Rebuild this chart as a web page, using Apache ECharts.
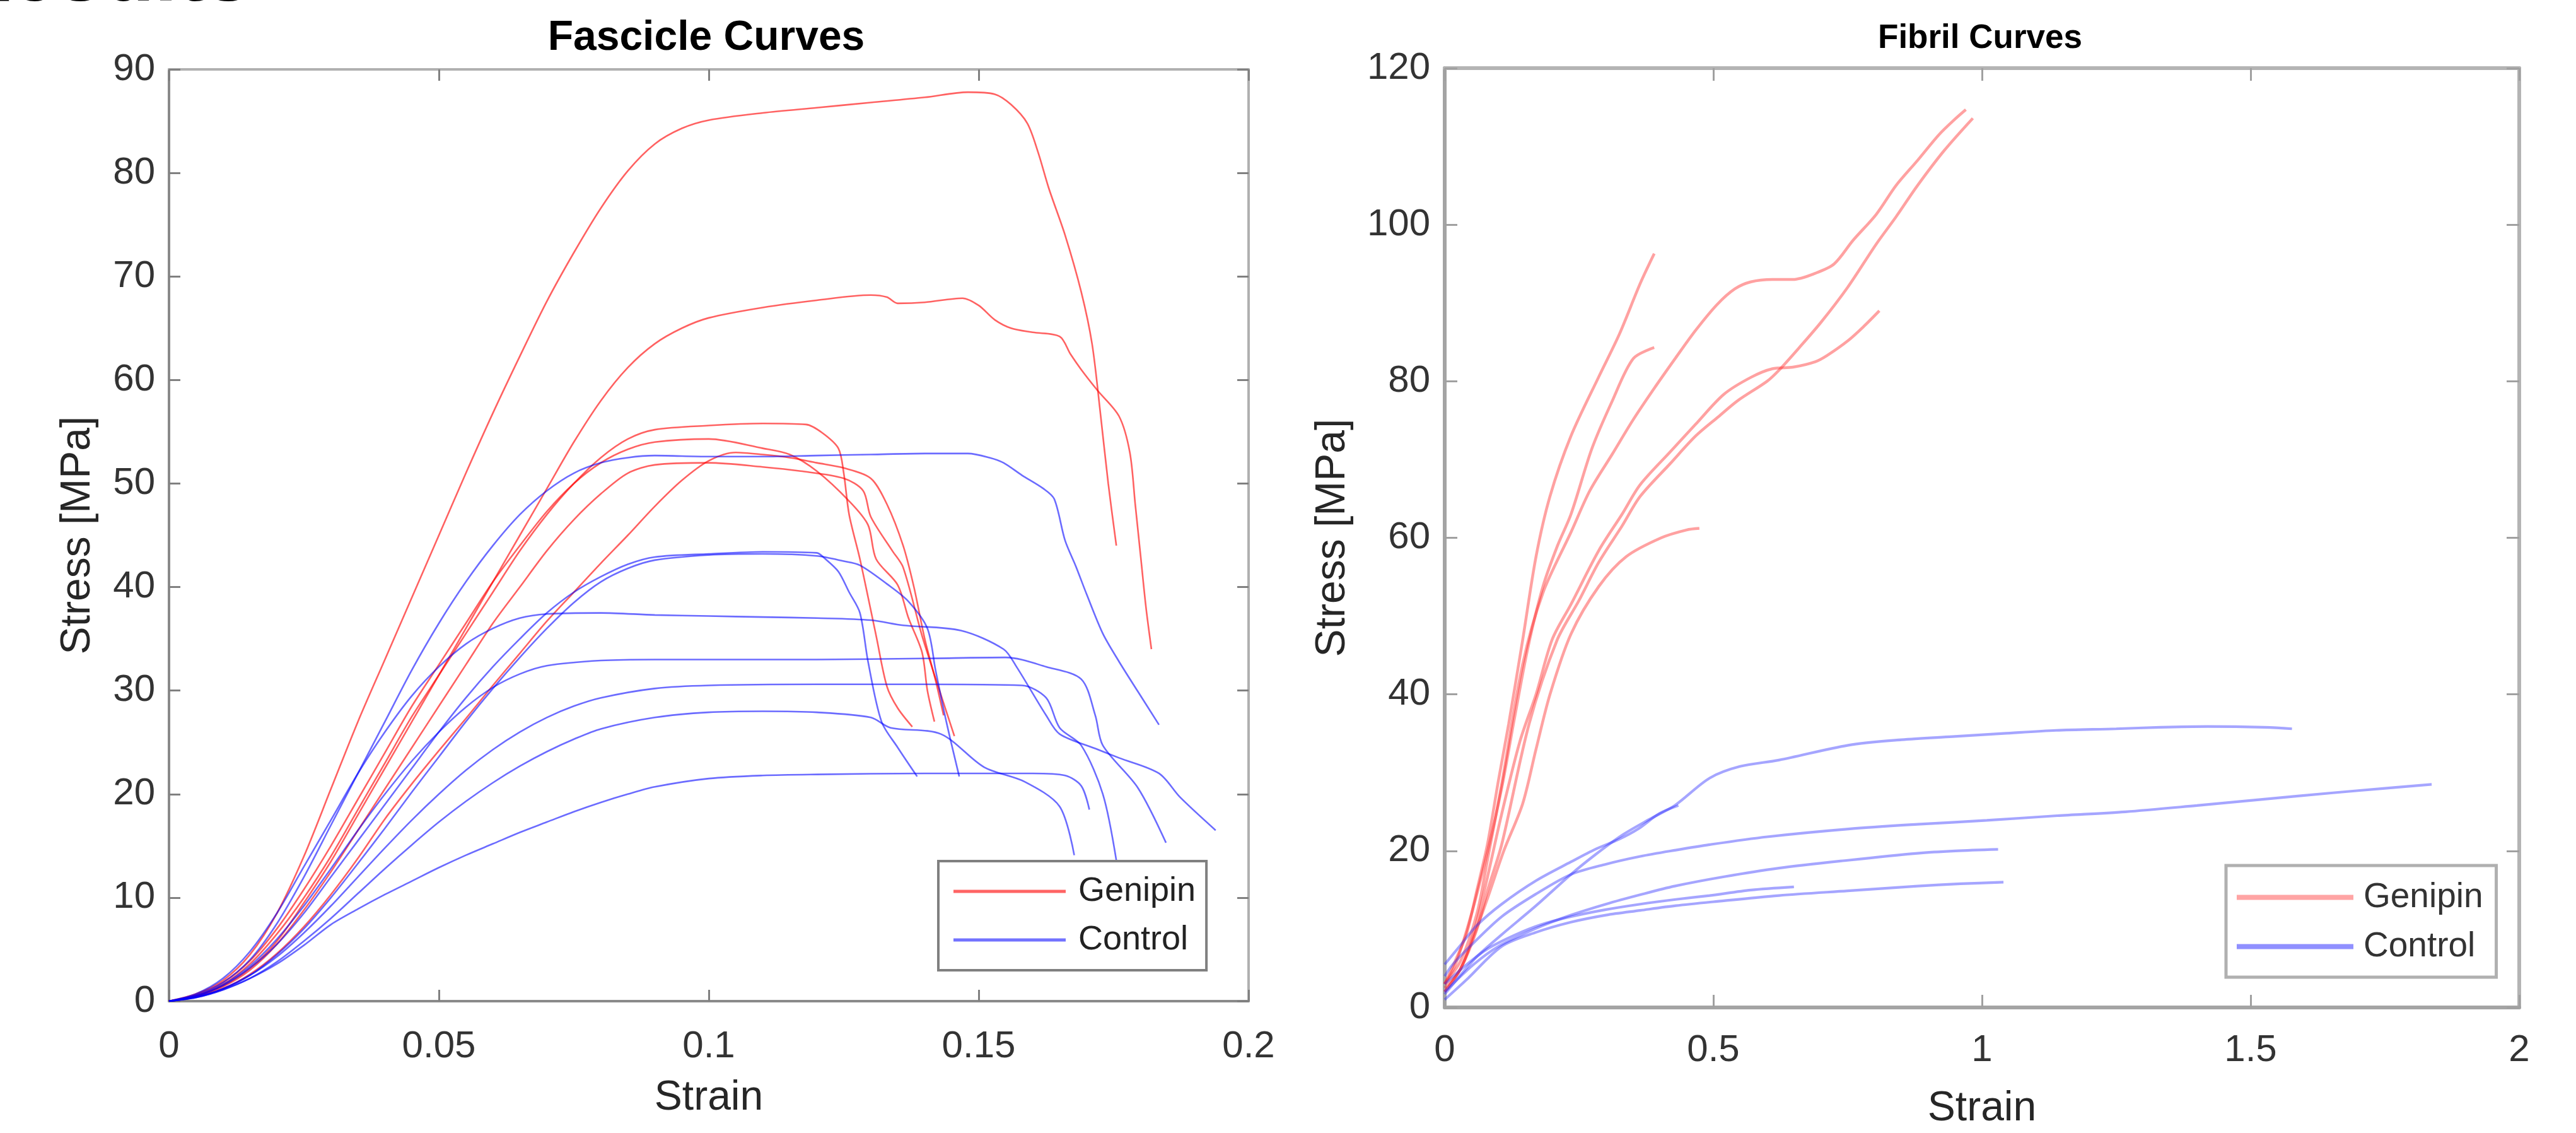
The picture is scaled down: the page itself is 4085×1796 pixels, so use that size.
<!DOCTYPE html>
<html>
<head>
<meta charset="utf-8">
<script src="https://cdn.jsdelivr.net/npm/echarts/dist/echarts.min.js"></script>
<style>html,body{margin:0;padding:0;background:#fff;}#c{width:4085px;height:1796px;}</style>
</head>
<body>
<div id="c"></div>
<script>
// ---------- tick labels ----------
const fascicleXTicks = [0, 0.05, 0.1, 0.15, 0.2];
const fascicleYTicks = [0, 10, 20, 30, 40, 50, 60, 70, 80, 90];
const fibrilXTicks = [0, 0.5, 1, 1.5, 2];
const fibrilYTicks = [0, 20, 40, 60, 80, 100, 120];

// ---------- Fascicle curves : Genipin ----------
const fasGenipin1 = [[0,0],[0.005,0.7],[0.01,2],[0.015,4.5],[0.02,8.5],[0.025,14],[0.03,20.5],[0.035,27],[0.04,33],[0.045,39],[0.05,45],[0.055,51],[0.06,56.8],[0.065,62.3],[0.07,67.6],[0.075,72.3],[0.08,76.6],[0.085,80.2],[0.09,82.8],[0.095,84.3],[0.1,85.1],[0.11,85.8],[0.12,86.3],[0.13,86.8],[0.14,87.3],[0.148,87.8],[0.153,87.6],[0.156,86.6],[0.159,84.8],[0.161,82],[0.163,78.5],[0.166,74],[0.169,68.5],[0.171,63.5],[0.1725,57],[0.174,50],[0.1755,44]];
const fasGenipin2 = [[0,0],[0.005,0.5],[0.01,1.5],[0.015,3.2],[0.02,5.8],[0.025,9.5],[0.03,13.5],[0.035,18],[0.04,22.5],[0.045,27],[0.05,31.5],[0.055,36],[0.06,40.5],[0.065,45],[0.07,49.5],[0.075,54],[0.08,58],[0.085,61.2],[0.09,63.5],[0.095,65],[0.1,66],[0.11,67],[0.12,67.7],[0.13,68.2],[0.133,68],[0.135,67.4],[0.14,67.5],[0.147,67.9],[0.15,67.2],[0.153,65.8],[0.156,65],[0.16,64.6],[0.165,64.2],[0.167,62.5],[0.169,61],[0.172,59],[0.176,56.5],[0.178,53],[0.179,48],[0.18,43],[0.181,38],[0.182,34]];
const fasGenipin3 = [[0,0],[0.005,0.5],[0.01,1.6],[0.015,3.6],[0.02,6.5],[0.025,10],[0.03,14],[0.035,18.5],[0.04,23],[0.045,27.5],[0.05,31.5],[0.055,35.5],[0.06,39.5],[0.065,43.5],[0.07,47],[0.075,50],[0.08,52.5],[0.085,54.3],[0.09,55.2],[0.1,55.6],[0.11,55.8],[0.118,55.7],[0.121,54.9],[0.124,53.4],[0.125,51],[0.126,47],[0.128,42.7],[0.131,35.3],[0.133,30.4],[0.135,28.3],[0.1377,26.5]];
const fasGenipin4 = [[0,0],[0.005,0.6],[0.01,1.8],[0.015,3.9],[0.02,7],[0.025,10.8],[0.03,15],[0.035,19.5],[0.04,24],[0.045,28.5],[0.05,32.5],[0.055,36.5],[0.06,40.5],[0.065,44],[0.07,47.3],[0.075,50],[0.08,52],[0.085,53.3],[0.09,54],[0.1,54.3],[0.11,53.4],[0.115,52.8],[0.12,51.2],[0.126,48.3],[0.1295,46],[0.131,42.7],[0.135,40.2],[0.137,37],[0.1395,33.7],[0.1405,30],[0.1418,27]];
const fasGenipin5 = [[0,0],[0.005,0.5],[0.01,1.4],[0.015,3],[0.02,5.5],[0.025,8.8],[0.03,12.5],[0.035,16.5],[0.04,20.5],[0.045,24.5],[0.05,28.5],[0.055,32.5],[0.06,36.5],[0.065,40],[0.07,43.5],[0.075,46.5],[0.08,49],[0.085,51],[0.09,51.8],[0.1,52],[0.11,51.6],[0.117,51.2],[0.125,50.5],[0.1286,49.3],[0.13,46.8],[0.134,43.5],[0.136,41.9],[0.1395,35.3],[0.142,31.2],[0.1455,25.6]];
const fasGenipin6 = [[0,0],[0.005,0.4],[0.01,1.2],[0.015,2.6],[0.02,4.6],[0.025,7.2],[0.03,10.3],[0.035,13.8],[0.04,17.6],[0.045,21],[0.05,24.2],[0.055,27.3],[0.06,30.5],[0.065,33.6],[0.07,36.7],[0.075,39.5],[0.08,42.3],[0.085,45],[0.09,47.8],[0.095,50.3],[0.1,52.2],[0.105,53],[0.11,52.8],[0.115,52.5],[0.12,52],[0.125,51.5],[0.13,50.5],[0.133,48],[0.136,44],[0.138,40],[0.14,35],[0.142,31],[0.1435,27.6]];

// ---------- Fascicle curves : Control ----------
const fasControl1 = [[0,0],[0.005,0.6],[0.01,1.8],[0.015,4],[0.02,7.5],[0.025,12],[0.03,17],[0.035,22],[0.04,27],[0.045,32],[0.05,36.5],[0.055,40.5],[0.06,44],[0.065,47],[0.07,49.3],[0.075,51],[0.08,52],[0.085,52.5],[0.09,52.7],[0.1,52.6],[0.11,52.6],[0.12,52.7],[0.13,52.8],[0.14,52.9],[0.148,52.9],[0.152,52.5],[0.1546,52],[0.158,50.8],[0.162,49.5],[0.164,48.5],[0.166,44.5],[0.168,42],[0.17,39.3],[0.173,35.5],[0.176,32.8],[0.1795,29.9],[0.1834,26.7]];
const fasControl2 = [[0,0],[0.005,0.5],[0.01,1.5],[0.015,3.2],[0.02,5.5],[0.025,8.5],[0.03,12],[0.035,15.5],[0.04,19],[0.045,22.5],[0.05,26],[0.055,29.3],[0.06,32.3],[0.065,35],[0.07,37.5],[0.075,39.5],[0.08,41],[0.085,42.2],[0.09,42.9],[0.1,43.2],[0.11,43.4],[0.12,43.3],[0.1214,42.8],[0.124,41.5],[0.126,39.5],[0.128,37.5],[0.1295,32.8],[0.132,27],[0.135,24.5],[0.1386,21.7]];
const fasControl3 = [[0,0],[0.005,0.4],[0.01,1.2],[0.015,2.5],[0.02,4.5],[0.025,7],[0.03,10],[0.035,13.3],[0.04,16.7],[0.045,20.2],[0.05,23.6],[0.055,27],[0.06,30.2],[0.065,33.2],[0.07,36],[0.075,38.5],[0.08,40.5],[0.085,41.8],[0.09,42.6],[0.1,43.1],[0.11,43.2],[0.12,43],[0.125,42.5],[0.128,42.1],[0.133,40.3],[0.137,38.6],[0.1405,36],[0.142,32],[0.144,27],[0.1464,21.7]];
const fasControl4 = [[0,0],[0.005,0.7],[0.01,2.2],[0.015,4.8],[0.02,8.5],[0.025,13],[0.03,17.5],[0.035,22],[0.04,26],[0.045,29.5],[0.05,32.3],[0.055,34.5],[0.06,36],[0.065,37],[0.07,37.4],[0.08,37.5],[0.09,37.3],[0.1,37.2],[0.11,37.1],[0.12,37],[0.13,36.8],[0.136,36.3],[0.1467,35.8],[0.1546,34],[0.157,32.3],[0.1625,27.6],[0.165,25.8],[0.1716,24.4],[0.176,23.5],[0.1834,22],[0.1873,19.7],[0.1939,16.5]];
const fasControl5 = [[0,0],[0.005,0.5],[0.01,1.6],[0.015,3.4],[0.02,6],[0.025,9.2],[0.03,12.8],[0.035,16.5],[0.04,20],[0.045,23.2],[0.05,26],[0.055,28.4],[0.06,30.3],[0.065,31.6],[0.07,32.4],[0.08,32.9],[0.09,33],[0.1,33],[0.12,33],[0.14,33.1],[0.155,33.2],[0.1625,32.3],[0.169,31.1],[0.1716,27.6],[0.173,24.7],[0.1795,20.6],[0.1847,15.3]];
const fasControl6 = [[0,0],[0.005,0.4],[0.01,1.2],[0.015,2.5],[0.02,4.3],[0.025,6.6],[0.03,9.2],[0.035,12],[0.04,14.8],[0.045,17.5],[0.05,20],[0.055,22.3],[0.06,24.3],[0.065,26],[0.07,27.4],[0.075,28.5],[0.08,29.3],[0.09,30.2],[0.1,30.5],[0.12,30.6],[0.14,30.6],[0.158,30.5],[0.1625,29.3],[0.165,26.4],[0.169,24.7],[0.173,20],[0.1755,13.6]];
const fasControl7 = [[0,0],[0.005,0.35],[0.01,1.1],[0.015,2.2],[0.02,3.8],[0.025,5.8],[0.03,8],[0.035,10.4],[0.04,12.8],[0.045,15.1],[0.05,17.3],[0.055,19.3],[0.06,21.1],[0.065,22.7],[0.07,24.1],[0.075,25.3],[0.08,26.3],[0.09,27.4],[0.1,27.9],[0.11,28],[0.12,27.9],[0.13,27.4],[0.1337,26.4],[0.143,25.8],[0.151,22.6],[0.1585,21.2],[0.165,18.8],[0.1677,14.1]];
const fasControl8 = [[0,0],[0.005,0.35],[0.01,1.1],[0.015,2.2],[0.02,3.6],[0.025,5.4],[0.03,7.4],[0.035,8.9],[0.04,10.3],[0.045,11.6],[0.05,12.9],[0.055,14.1],[0.06,15.2],[0.065,16.3],[0.07,17.3],[0.075,18.3],[0.08,19.2],[0.085,20],[0.09,20.7],[0.1,21.5],[0.11,21.8],[0.12,21.9],[0.14,22],[0.16,22],[0.166,21.8],[0.169,20.8],[0.1705,18.5]];

// ---------- Fibril curves : Genipin ----------
const fibGenipin1 = [[0,3],[0.02,6],[0.041,9.5],[0.06,15],[0.08,21],[0.1,29],[0.119,36.2],[0.145,46.9],[0.17,57.6],[0.196,65.3],[0.235,73],[0.287,80.6],[0.325,86],[0.364,92.5],[0.39,96.3]];
const fibGenipin2 = [[0,3],[0.02,5.5],[0.05,12],[0.08,20],[0.106,28],[0.13,37],[0.155,46],[0.183,53.8],[0.21,59],[0.235,63],[0.274,71.4],[0.312,77.5],[0.351,82.9],[0.39,84.3]];
const fibGenipin3 = [[0,2],[0.03,5],[0.055,9.3],[0.08,14],[0.11,20],[0.145,26],[0.17,33],[0.196,40],[0.235,47.7],[0.287,53.8],[0.338,57.6],[0.403,60],[0.45,61],[0.474,61.2]];
const fibGenipin4 = [[0,2.5],[0.03,5],[0.06,11],[0.106,24.7],[0.14,34],[0.17,40],[0.2,47],[0.235,51.5],[0.287,58.4],[0.33,63],[0.364,66.8],[0.42,71],[0.467,74.5],[0.519,78.3],[0.57,80.5],[0.61,81.6],[0.648,81.8],[0.69,82.5],[0.712,83.3],[0.751,85.2],[0.78,87],[0.809,89]];
const fibGenipin5 = [[0,3],[0.03,6],[0.06,12],[0.08,19],[0.106,28.5],[0.145,43.8],[0.183,53],[0.235,60.7],[0.27,66],[0.312,70.7],[0.35,75],[0.39,79.1],[0.43,83],[0.467,86.5],[0.507,89.8],[0.54,91.8],[0.57,92.7],[0.61,93],[0.648,93],[0.69,93.8],[0.725,95],[0.76,98],[0.803,101.3],[0.84,105],[0.88,108.2],[0.92,111.5],[0.95,113.5],[0.97,114.7]];
const fibGenipin6 = [[0,2],[0.03,5],[0.06,10],[0.08,15],[0.106,20.8],[0.157,36.2],[0.209,46.9],[0.25,52],[0.287,56.9],[0.33,61.5],[0.364,65.3],[0.42,69.5],[0.467,73],[0.51,75.5],[0.545,77.5],[0.6,80],[0.622,81.4],[0.66,84.3],[0.7,87.5],[0.75,92],[0.803,97.5],[0.84,101],[0.88,105],[0.93,109.5],[0.983,113.6]];

// ---------- Fibril curves : Control ----------
const fibControl1 = [[0,1.7],[0.028,4],[0.06,6.5],[0.106,9.3],[0.17,13],[0.235,17],[0.28,19.5],[0.33,22],[0.38,24],[0.428,25.8],[0.493,29.3],[0.55,30.8],[0.622,31.6],[0.751,33.5],[0.85,34.2],[0.945,34.6],[1.04,35],[1.138,35.4],[1.25,35.6],[1.332,35.8],[1.42,35.9],[1.525,35.8],[1.577,35.6]];
const fibControl2 = [[0,4],[0.015,5.5],[0.05,8],[0.106,11.6],[0.17,14.5],[0.235,17],[0.3,18.3],[0.364,19.3],[0.43,20.1],[0.493,20.8],[0.6,21.8],[0.751,22.8],[0.88,23.4],[1.009,23.9],[1.14,24.5],[1.267,25],[1.4,25.8],[1.525,26.6],[1.65,27.4],[1.75,28],[1.837,28.5]];
const fibControl3 = [[0,2],[0.054,5.5],[0.1,7.8],[0.17,10.1],[0.235,11.8],[0.3,13.2],[0.364,14.4],[0.428,15.5],[0.52,16.7],[0.622,17.8],[0.75,18.8],[0.88,19.7],[0.95,20],[1.03,20.2]];
const fibControl4 = [[0,1],[0.04,3.5],[0.106,7.8],[0.17,9.6],[0.235,10.9],[0.3,11.8],[0.364,12.4],[0.43,13],[0.5,13.5],[0.622,14.3],[0.75,14.9],[0.88,15.5],[0.96,15.8],[1.04,16]];
const fibControl5 = [[0,3],[0.041,5.5],[0.08,7.5],[0.132,9.3],[0.18,10.6],[0.235,11.6],[0.3,12.5],[0.364,13.2],[0.43,13.8],[0.493,14.3],[0.57,15],[0.65,15.4]];
const fibControl6 = [[0,5.5],[0.03,8],[0.06,10.5],[0.106,13.2],[0.17,16.2],[0.235,18.6],[0.28,20.2],[0.325,21.5],[0.36,22.8],[0.4,24.8],[0.435,25.8]];

const fasGenipinCurves = [fasGenipin1, fasGenipin2, fasGenipin3, fasGenipin4, fasGenipin5, fasGenipin6];
const fasControlCurves = [fasControl1, fasControl2, fasControl3, fasControl4, fasControl5, fasControl6, fasControl7, fasControl8];
const fibGenipinCurves = [fibGenipin1, fibGenipin2, fibGenipin3, fibGenipin4, fibGenipin5, fibGenipin6];
const fibControlCurves = [fibControl1, fibControl2, fibControl3, fibControl4, fibControl5, fibControl6];

const FONT = '"Liberation Sans", Arial, Helvetica, sans-serif';

function axisPair(dir, gridIndex, ticks, st, name, nameGap, labelMargin) {
  const base = {
    gridIndex: gridIndex, type: 'value',
    min: ticks[0], max: ticks[ticks.length - 1], interval: ticks[1] - ticks[0],
    splitLine: {show: false},
    axisTick: {show: true, inside: true, length: st.tickLen, lineStyle: {color: st.tickColor, width: st.tickWidth}}
  };
  const main = Object.assign({}, base, {
    position: dir === 'x' ? 'bottom' : 'left',
    axisLine: {show: true, onZero: false, lineStyle: {color: st.lineColor, width: st.lineWidth}},
    axisLabel: {show: true, margin: labelMargin, fontSize: 60, color: '#333', fontFamily: FONT},
    name: name, nameLocation: 'middle', nameGap: nameGap,
    nameTextStyle: {fontSize: 66, color: '#262626', fontFamily: FONT}
  });
  const mirror = Object.assign({}, base, {
    position: dir === 'x' ? 'top' : 'right',
    axisLine: {show: true, onZero: false, lineStyle: {color: st.lineColor2, width: st.lineWidth}},
    axisLabel: {show: false}
  });
  return [main, mirror];
}

const leftStyle = {lineColor: '#8a8a8a', lineColor2: '#b0b0b0', lineWidth: 4, tickColor: '#808080', tickWidth: 3, tickLen: 18};
const rightStyle = {lineColor: '#a4a4a4', lineColor2: '#b4b4b4', lineWidth: 6, tickColor: '#a0a0a0', tickWidth: 3, tickLen: 20};

const xAxes = [].concat(
  axisPair('x', 0, fascicleXTicks, leftStyle, 'Strain', 121, 42),
  axisPair('x', 1, fibrilXTicks, rightStyle, 'Strain', 128, 38)
);
const yAxes = [].concat(
  axisPair('y', 0, fascicleYTicks, leftStyle, 'Stress [MPa]', 111, 22),
  axisPair('y', 1, fibrilYTicks, rightStyle, 'Stress [MPa]', 144, 23)
);

const series = [];
function addCurves(curves, name, xi, yi, color, width) {
  curves.forEach(function (c) {
    series.push({
      type: 'line', name: name, xAxisIndex: xi, yAxisIndex: yi,
      data: c, showSymbol: false, symbol: 'none', smooth: 0.3,
      lineStyle: {color: color, width: width}, itemStyle: {color: color},
      emphasis: {disabled: true}, silent: true
    });
  });
}
addCurves(fasGenipinCurves, 'Genipin', 0, 0, 'rgba(255,0,0,0.62)', 2.6);
addCurves(fasControlCurves, 'Control', 0, 0, 'rgba(0,0,255,0.58)', 2.6);
addCurves(fibGenipinCurves, 'Genipin', 2, 2, 'rgba(255,30,30,0.42)', 4.5);
addCurves(fibControlCurves, 'Control', 2, 2, 'rgba(40,40,255,0.42)', 4.2);

const chart = echarts.init(document.getElementById('c'), null, {renderer: 'canvas', width: 4085, height: 1796});
chart.setOption({
  animation: false,
  backgroundColor: '#ffffff',
  grid: [
    {left: 268, top: 110, width: 1712, height: 1477, containLabel: false},
    {left: 2291, top: 108, width: 1704, height: 1496, containLabel: false}
  ],
  xAxis: xAxes,
  yAxis: yAxes,
  legend: [
    {
      left: 1488, top: 1365, orient: 'vertical', icon: 'rect', itemWidth: 178, itemHeight: 5, itemGap: 23,
      padding: [21, 17, 21, 24], borderColor: '#808080', borderWidth: 4, backgroundColor: '#ffffff', borderRadius: 0,
      selectedMode: false,
      textStyle: {fontSize: 54, lineHeight: 54, color: '#222', fontFamily: FONT, padding: [0, 0, 0, 15]},
      data: [
        {name: 'Genipin', itemStyle: {color: '#ff6464', borderWidth: 0}},
        {name: 'Control', itemStyle: {color: '#7272ff', borderWidth: 0}}
      ]
    },
    {
      left: 3530, top: 1372, orient: 'vertical', icon: 'rect', itemWidth: 185, itemHeight: 8, itemGap: 23,
      padding: [23, 21, 21, 17], borderColor: '#b0b0b0', borderWidth: 5, backgroundColor: '#ffffff', borderRadius: 0,
      selectedMode: false,
      textStyle: {fontSize: 55, lineHeight: 55, color: '#333', fontFamily: FONT, padding: [0, 0, 0, 11]},
      data: [
        {name: 'Genipin', itemStyle: {color: '#ffa4a4', borderWidth: 0}},
        {name: 'Control', itemStyle: {color: '#9090ff', borderWidth: 0}}
      ]
    }
  ],
  graphic: [
    {type: 'text', x: -78, y: -35, silent: true,
      style: {text: 'Results', fill: '#000', font: 'bold 132px ' + FONT, align: 'left', verticalAlign: 'middle'}},
    {type: 'text', x: 1120, y: 61, silent: true,
      style: {text: 'Fascicle Curves', fill: '#000', font: 'bold 66px ' + FONT, align: 'center', verticalAlign: 'middle'}},
    {type: 'text', x: 3140, y: 61, silent: true,
      style: {text: 'Fibril Curves', fill: '#000', font: 'bold 53px ' + FONT, align: 'center', verticalAlign: 'middle'}}
  ],
  series: series
});
</script>
</body>
</html>
